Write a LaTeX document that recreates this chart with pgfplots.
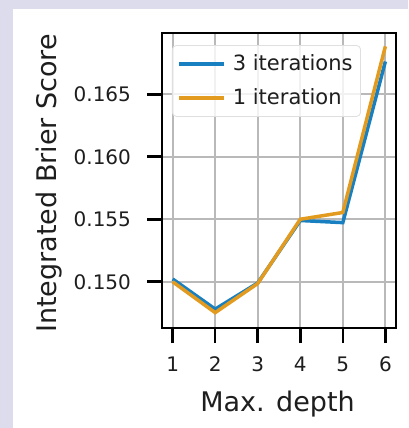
\documentclass[border=0pt]{standalone}
\usepackage{fontspec}
\setmainfont{DejaVu Sans}
\usepackage{pgfplots}
\pgfplotsset{compat=1.18}
\definecolor{bgl}{RGB}{220,220,236}
\definecolor{cbblue}{RGB}{24,128,192}
\definecolor{cborange}{RGB}{226,155,30}
\definecolor{txt}{RGB}{30,30,30}
\begin{document}
\begin{tikzpicture}
\path[use as bounding box, fill=bgl] (0,0) rectangle (204pt,214pt);
\fill[white] (6.5pt,0pt) rectangle (204pt,209.25pt);
\begin{axis}[
  at={(81pt,50pt)}, anchor=south west,
  scale only axis, width=117pt, height=147.5pt,
  xmin=0.75, xmax=6.25, ymin=0.1463, ymax=0.1699,
  xtick={1,2,3,4,5,6},
  ytick={0.150,0.155,0.160,0.165},
  /pgf/number format/assume math mode=true,
  yticklabel style={/pgf/number format/fixed, /pgf/number format/precision=3, /pgf/number format/fixed zerofill, font=\fontsize{10pt}{12pt}\selectfont, xshift=-4.5pt, text=txt},
  xticklabel style={font=\fontsize{10pt}{12pt}\selectfont, yshift=-3.5pt, text=txt},
  scaled y ticks=false,
  xtick pos=left, ytick pos=left,
  tick align=outside,
  major tick length=7.5pt,
  every major tick/.style={draw=black, line width=1.3pt},
  axis line style={line width=1.4pt},
  xmajorgrids, ymajorgrids,
  major grid style={gray!55, line width=0.9pt},
  xlabel={Max. depth},
  ylabel={Integrated Brier Score},
  label style={font=\fontsize{13.5pt}{16pt}\selectfont, text=txt},
  xlabel style={at={(axis description cs:0.494,-0.2136)}, anchor=north, inner sep=0pt},
  ylabel style={at={(axis description cs:-0.54,0.49)}, anchor=north, inner sep=0pt},
  legend style={at={(axis description cs:0.0427,0.959)}, anchor=north west,
    draw=gray!25, rounded corners=2pt, fill=white, fill opacity=0.8, text opacity=1,
    font=\fontsize{10.5pt}{12.5pt}\selectfont, inner xsep=2.5pt, inner ysep=3pt,
    row sep=4.5pt, nodes={inner sep=1.5pt, anchor=west, text=txt}},
  legend cell align=left,
  legend image code/.code={\draw[#1] (0pt,0pt) -- (22.5pt,0pt);},
]
\addplot[cbblue, line width=1.75pt] coordinates {
 (1,0.15022) (2,0.14781) (3,0.14990) (4,0.15490) (5,0.15473) (6,0.16762)};
\addlegendentry{\hspace{2pt}3 iterations}
\addplot[cborange, line width=1.75pt] coordinates {
 (1,0.15000) (2,0.14753) (3,0.14986) (4,0.15500) (5,0.15554) (6,0.16883)};
\addlegendentry{\hspace{2pt}1 iteration}
\end{axis}
\end{tikzpicture}
\end{document}
